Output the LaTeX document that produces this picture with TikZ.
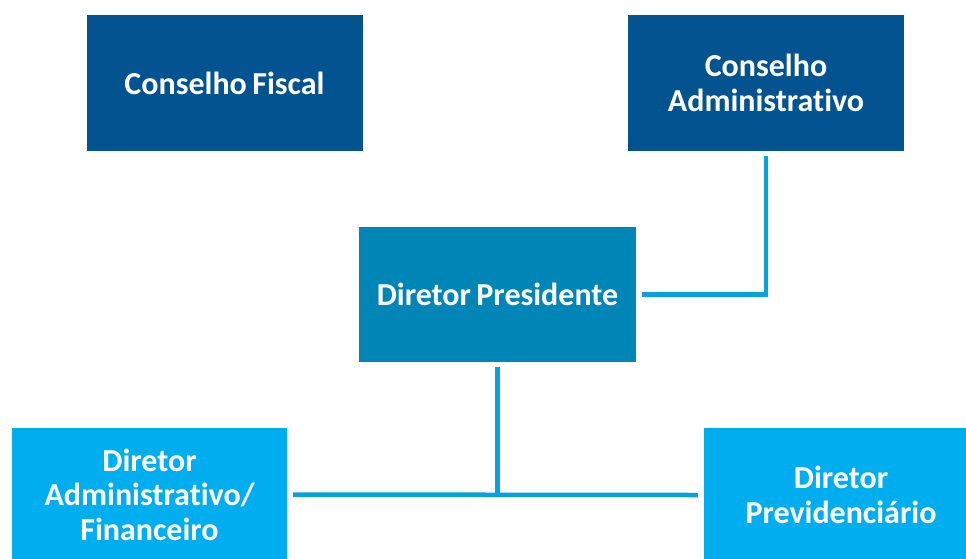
\documentclass[tikz,border=0pt]{standalone}
\usepackage{fontspec}
\setmainfont[Ligatures=NoCommon,WordSpace=0.75]{Carlito}
\definecolor{cdark}{HTML}{02538F}
\definecolor{cmid}{HTML}{0086B6}
\definecolor{clight}{HTML}{00AEEF}
\definecolor{cline}{HTML}{07A1DB}
\tikzset{
  box/.style={rectangle, inner sep=0pt, text=white, align=center,
    font=\bfseries\fontsize{32}{34.5}\selectfont},
  conn/.style={draw=cline, line width=4.5pt}
}
\begin{document}
\begin{tikzpicture}[x=1pt,y=-1pt]
\useasboundingbox (0,0) rectangle (966,558);
\node[box, fill=cdark, minimum width=276pt, minimum height=136pt] (cf) at (224.5,83) {Conselho Fiscal};
\node[box, fill=cdark, minimum width=276pt, minimum height=136pt] (ca) at (766,83) {Conselho\\Administrativo};
\node[box, fill=cmid, minimum width=277pt, minimum height=135pt] (dp) at (497.5,294.5) {Diretor Presidente};
\node[box, fill=clight, minimum width=275pt, minimum height=133pt] (dab) at (149.5,494.5) {Diretor\\Administrativo/\\Financeiro};
\node[box, fill=clight, minimum width=274pt, minimum height=134pt] (dpv) at (841,495) {Diretor\\Previdenciário};
\draw[conn] ([yshift=-5pt]ca.south) |- ([xshift=6pt]dp.east);
\draw[conn] ([xshift=6pt]dab.east) -- ([xshift=-6pt]dpv.west);
\draw[conn] ([yshift=-5pt]dp.south) -- (dp.south |- dab.east);
\end{tikzpicture}
\end{document}
